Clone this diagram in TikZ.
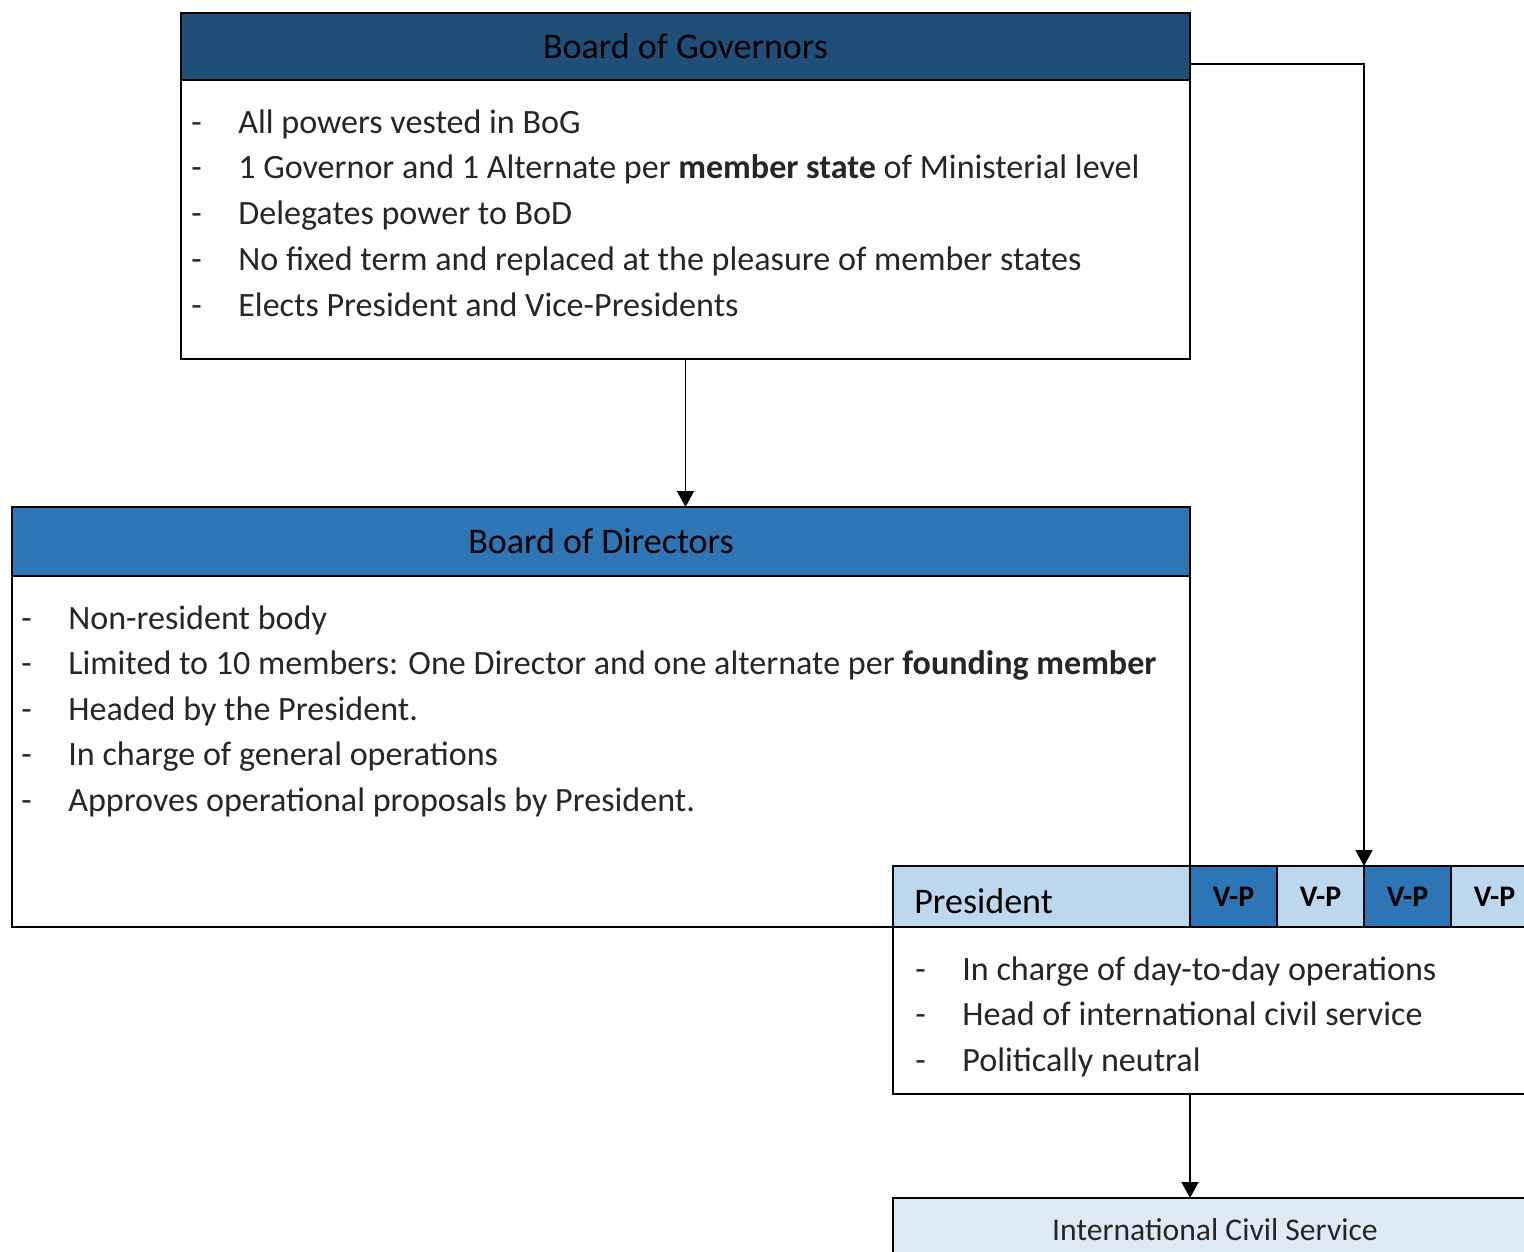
\documentclass[tikz,border=0pt]{standalone}
\usepackage{fontspec}
\setmainfont{Carlito}
\usetikzlibrary{arrows.meta}
\definecolor{bogblue}{HTML}{1F4E79}
\definecolor{bodblue}{HTML}{2E75B6}
\definecolor{presblue}{HTML}{BDD7EE}
\definecolor{icsblue}{HTML}{DEEBF7}
\definecolor{bodytext}{HTML}{262626}
\newcommand{\itemdash}{\makebox[0.94cm][l]{-}}
\tikzset{
  box/.style={draw, line width=1.1pt, anchor=north west, inner sep=0pt, outer sep=0pt},
  title/.style={font=\fontsize{20.5}{24}\selectfont, text=black},
  item/.style={anchor=base west, inner sep=0pt, font=\fontsize{19.4}{24}\selectfont, text=bodytext},
  vp/.style={box, minimum width={87*0.02cm}, minimum height={61*0.02cm}, font=\fontsize{17}{20}\selectfont\bfseries},
  link/.style={line width=1.1pt, -{Triangle[length=9pt,width=9.5pt]}},
}
\begin{document}
\begin{tikzpicture}[x=0.02cm, y=-0.02cm]
	\useasboundingbox (0,0) rectangle (1524,1251);
	\clip (0,0) rectangle (1524,1251);
	% Board of Governors
	\node [box, title, fill=bogblue, minimum width={1009*0.02cm}, minimum height={67*0.02cm}] (bog) at (181,13) {Board of Governors};
	\node [box, minimum width={1009*0.02cm}, minimum height={279*0.02cm}] (bog-body) at (181,80) {};
	\foreach \txt [count=\i] in {{All powers vested in BoG},
		{1 Governor and 1 Alternate per \textbf{member state} of Ministerial level},
		{Delegates power to BoD},
		{No fixed term and replaced at the pleasure of member states},
		{Elects President and Vice-Presidents}}
		\node [item] (bog-\i) at (191,{133+45.8*(\i-1)}) {\itemdash\txt};
	% Board of Directors
	\node [box, title, fill=bodblue, minimum width={1178*0.02cm}, minimum height={69*0.02cm}] (bod) at (12,507) {Board of Directors};
	\node [box, minimum width={1178*0.02cm}, minimum height={351*0.02cm}] (bod-body) at (12,576) {};
	\foreach \txt [count=\i] in {{Non-resident body},
		{Limited to 10 members: One Director and one alternate per \textbf{founding member}},
		{Headed by the President.},
		{In charge of general operations},
		{Approves operational proposals by President.}}
		\node [item] (bod-\i) at (21,{629+45.5*(\i-1)}) {\itemdash\txt};
	% President and Vice-Presidents
	\node [box, fill=presblue, minimum width={297*0.02cm}, minimum height={61*0.02cm}] (pres) at (893,866) {};
	\node [title, anchor=base west, inner sep=0pt] (pres-title) at (914,913) {President};
	\foreach \c [count=\i] in {bodblue, presblue, bodblue, presblue}
		\node [vp, fill=\c] (vp-\i) at ({1190+87*(\i-1)},866) {V-P};
	\node [box, fill=white, minimum width={645*0.02cm}, minimum height={167*0.02cm}] (pres-body) at (893,927) {};
	\foreach \txt [count=\i] in {{In charge of day-to-day operations},
		{Head of international civil service},
		{Politically neutral}}
		\node [item] (pres-\i) at (915,{980+45.5*(\i-1)}) {\itemdash\txt};
	% International Civil Service
	\node [box, fill=icsblue, minimum width={645*0.02cm}, minimum height={80*0.02cm}] (ics) at (893,1198) {};
	\node [anchor=base, inner sep=0pt, font=\fontsize{18}{22}\selectfont, text=bodytext] (ics-label) at (1215,1240) {International Civil Service};
	% connectors
	\draw [link] (bog-body.south) -- (bog-body.south |- bod.north);
	\draw [link] ([yshift=-0.35cm]bog.east) -| (vp-3.north west);
	\draw [link] (pres.south east |- pres-body.south) -- (pres.south east |- ics.north);
\end{tikzpicture}
\end{document}
